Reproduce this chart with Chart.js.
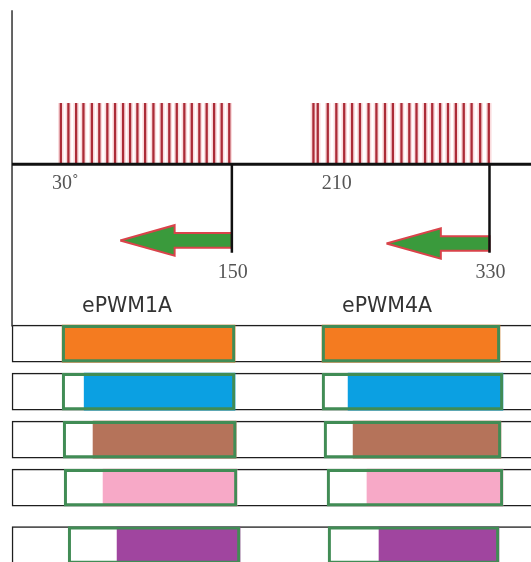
<!DOCTYPE html>
<html>
<head>
<meta charset="utf-8">
<script src="https://cdn.jsdelivr.net/npm/chart.js@4.4.1/dist/chart.umd.min.js"></script>
<style>
  html, body { margin: 0; padding: 0; background: #fff; }
  #wrap { width: 531px; height: 562px; }
</style>
</head>
<body>
<div id="wrap"><canvas id="pwmChart"></canvas></div>
<script>
// Angle marks on the time axis (degrees)
const angleMarks = [30, 150, 210, 330];
const angleTexts = ['30˚', '150', '210', '330'];

// Pulse positions of the two PWM trains (degrees)
const pulsesA = [30.5, 35.8, 41.2, 46.3, 52.2, 57.4, 63, 68.4, 74, 78.9, 84, 89.4,
                 95.2, 101, 106.3, 111.5, 116.8, 122, 127.3, 132.4, 137.6, 142.9, 148.2];
const pulsesB = [207, 210, 217, 223, 228.5, 234, 239.5, 245.5, 251, 257, 262.5, 268.5,
                 274, 279, 285, 290, 295.5, 301, 306.5, 312, 317.5, 323.5, 329.5];

// Arrows pointing back from the end of each train
const arrowFrom = [150, 330];
const arrowTo = [72, 258];
const arrowLevel = [-1.25, -1.3];

// Channel rows: box and coloured part for each channel
const channels = ['ePWM1A', 'ePWM4A'];
const rowLevels = [1, 2, 3, 4, 5.2];
const boxStartA = [31.4, 31.4, 32.1, 32.8, 35.6];
const boxEndA = [152.2, 152.2, 153, 153.6, 155.7];
const fillStartA = [31.4, 46.8, 53, 60, 69.8];
const boxStartB = [213, 213, 214.4, 216.5, 217.2];
const boxEndB = [337.3, 339.4, 338, 339.4, 336.6];
const fillStartB = [213, 231.2, 234.7, 244.4, 252.8];

// Styles
const rowColors = ['#f47b20', '#0ba0e2', '#b5735a', '#f7a9c7', '#a0459f'];
const boxGreen = '#418c55';
const axisOrigin = -3.6;
const axisTop = 2.52;
const axisBottom = -2.66;
const dropBottom = -1.45;
const pulseHigh = 1;
const headLen = 38;
const headHalf = 0.25;
const shaftHalf = 0.12;

// Function to build a line dataset from a list of points
function lineSet(points, color, width, order) {
    return {
        type: 'line',
        data: points,
        borderColor: color,
        borderWidth: width,
        pointRadius: 0,
        spanGaps: false,
        fill: false,
        order: order,
        xAxisID: 'x',
        yAxisID: 'y'
    };
}

// Function to turn pulse positions into vertical strokes separated by gaps
function pulsePoints(list) {
    const pts = [];
    list.forEach(p => {
        pts.push({ x: p, y: 0 }, { x: p, y: pulseHigh }, { x: p, y: null });
    });
    return pts;
}

// Function to build the outline of an arrow pointing from 'from' to 'to'
function arrowPoints(from, to, level) {
    const base = to + headLen;
    return [
        { x: to, y: level },
        { x: base, y: level + headHalf },
        { x: base, y: level + shaftHalf },
        { x: from, y: level + shaftHalf },
        { x: from, y: level - shaftHalf },
        { x: base, y: level - shaftHalf },
        { x: base, y: level - headHalf },
        { x: to, y: level }
    ];
}

// Function to build a bar dataset for the channel rows
function barSet(data, fillColor, border, width, order) {
    return {
        type: 'bar',
        indexAxis: 'y',
        xAxisID: 'x',
        yAxisID: 'yr',
        data: data,
        backgroundColor: fillColor,
        borderColor: border,
        borderWidth: width,
        borderSkipped: false,
        barThickness: 37,
        grouped: false,
        order: order
    };
}

const datasets = [];

// Row outlines
datasets.push(barSet(rowLevels.map(l => ({ x: [axisOrigin, 370], y: l })), '#fff', '#1e1e1e', 1.5, 5));

// Coloured parts
const fillData = [];
const fillColors = [];
rowLevels.forEach((l, i) => {
    fillData.push({ x: [fillStartA[i], boxEndA[i]], y: l });
    fillColors.push(rowColors[i]);
    fillData.push({ x: [fillStartB[i], boxEndB[i]], y: l });
    fillColors.push(rowColors[i]);
});
datasets.push(barSet(fillData, fillColors, 'rgba(0,0,0,0)', 0, 4));

// Green boxes
const boxData = [];
rowLevels.forEach((l, i) => {
    boxData.push({ x: [boxStartA[i], boxEndA[i]], y: l });
    boxData.push({ x: [boxStartB[i], boxEndB[i]], y: l });
});
datasets.push(barSet(boxData, 'rgba(0,0,0,0)', boxGreen, 2.5, 3));

// Pulse trains (soft halo then the stroke)
[pulsesA, pulsesB].forEach(list => {
    datasets.push(lineSet(pulsePoints(list), 'rgba(235,110,120,0.25)', 5.5, 2));
    datasets.push(lineSet(pulsePoints(list), '#ab2b37', 2.3, 1));
});

// Axes and drop lines
datasets.push(lineSet([{ x: axisOrigin, y: 0 }, { x: 400, y: 0 }], '#111', 3, 0));
datasets.push(lineSet([{ x: axisOrigin, y: axisTop }, { x: axisOrigin, y: axisBottom }], '#333', 1.5, 0));
[angleMarks[1], angleMarks[3]].forEach(m => {
    datasets.push(lineSet([{ x: m, y: 0 }, { x: m, y: dropBottom }], '#111', 2.5, 0));
});

// Arrows
arrowFrom.forEach((f, i) => {
    const set = lineSet(arrowPoints(f, arrowTo[i], arrowLevel[i]), '#d9434a', 2, 0);
    set.fill = 'shape';
    set.backgroundColor = '#3a9a3c';
    datasets.push(set);
});

// Plugin to write the angle marks and the channel names
const labelPlugin = {
    id: 'pwmLabels',
    afterDatasetsDraw(chart) {
        const { ctx, scales: { x, y, yr } } = chart;
        ctx.save();
        ctx.textBaseline = 'middle';
        ctx.font = '20px "Liberation Serif"';
        ctx.fillStyle = '#555';
        angleMarks.forEach((deg, i) => {
            const onAxis = i % 2 === 0;
            ctx.textAlign = onAxis ? 'left' : 'center';
            const px = x.getPixelForValue(deg) + (onAxis ? (i === 0 ? -8 : 4) : 1);
            const py = y.getPixelForValue(onAxis ? 0 : dropBottom) + 20;
            ctx.fillText(angleTexts[i], px, py);
        });
        ctx.font = '20.5px "DejaVu Sans"';
        ctx.fillStyle = '#333';
        ctx.textAlign = 'left';
        [boxStartA[0], boxStartB[0]].forEach((s, i) => {
            ctx.fillText(channels[i], x.getPixelForValue(s) + 20, yr.getPixelForValue(rowLevels[0]) - 37);
        });
        ctx.restore();
    }
};

const chart = new Chart(document.getElementById('pwmChart').getContext('2d'), {
    type: 'bar',
    data: { datasets: datasets },
    options: {
        responsive: true,
        maintainAspectRatio: false,
        animation: false,
        layout: { padding: 0 },
        plugins: {
            legend: { display: false },
            tooltip: { enabled: false }
        },
        scales: {
            x: { type: 'linear', offset: false, min: -12, max: 359, display: false },
            y: { type: 'linear', axis: 'y', offset: false, min: -6.52, max: 2.69, display: false },
            yr: { type: 'linear', axis: 'y', offset: false, reverse: true, min: -6.16, max: 5.55, display: false }
        }
    },
    plugins: [labelPlugin]
});
</script>
</body>
</html>
